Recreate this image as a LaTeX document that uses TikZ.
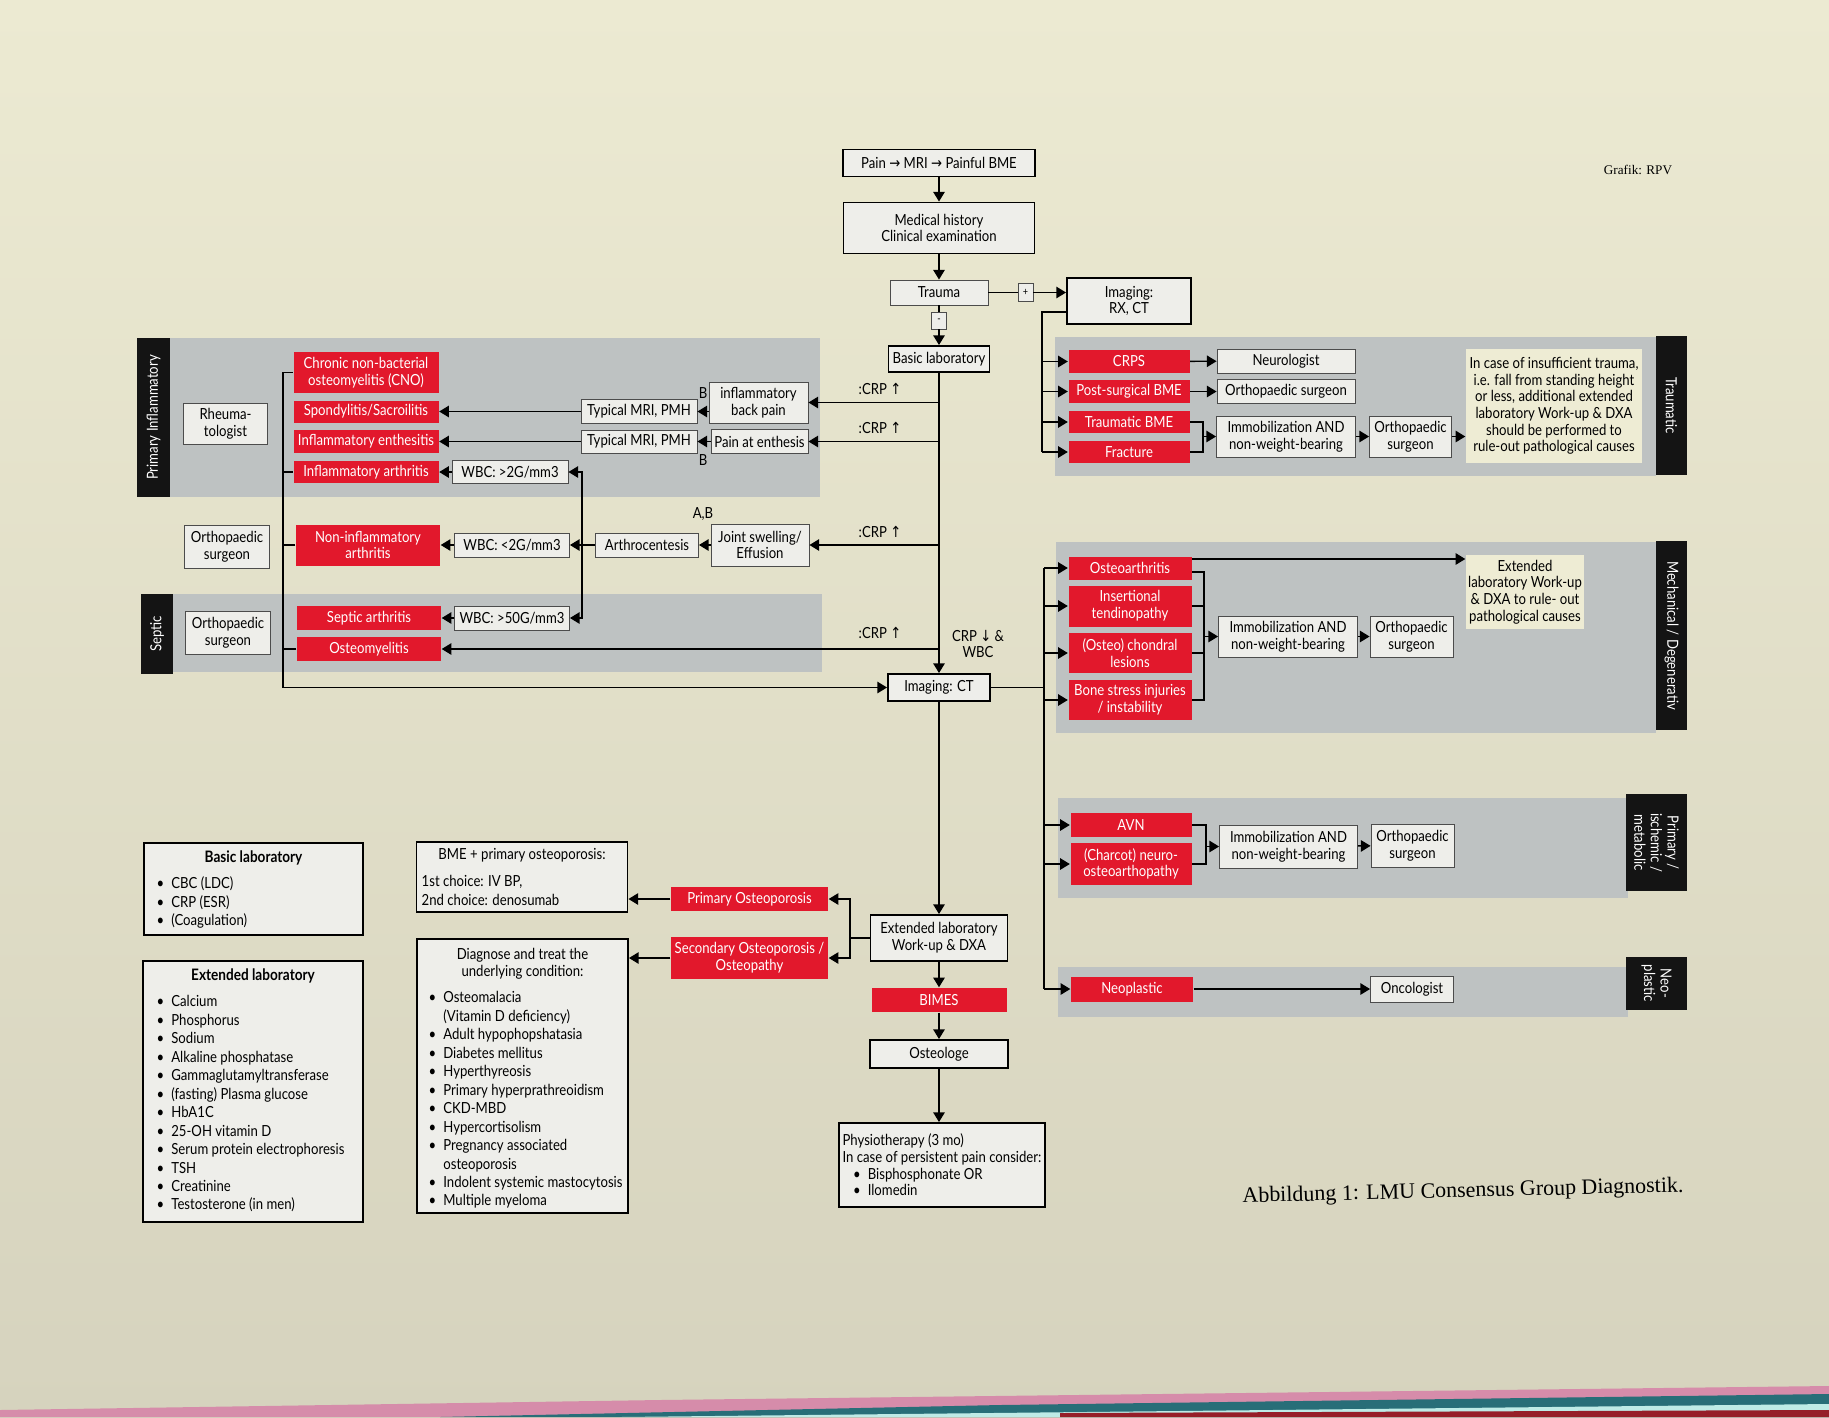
\documentclass[tikz,border=0pt]{standalone}
\usepackage{fontspec}
\setmainfont{Lato}[FakeStretch=0.86]
\newfontfamily\symfont{DejaVu Sans}[FakeStretch=0.86]
\newfontfamily\capfont{Liberation Serif}
\usetikzlibrary{positioning,arrows.meta}
\definecolor{diagred}{RGB}{226,24,44}
\definecolor{panelgray}{RGB}{190,194,194}
\definecolor{boxgray}{RGB}{238,238,234}
\definecolor{notebeige}{RGB}{238,236,212}
\definecolor{pagetop}{RGB}{236,234,210}
\definecolor{pagebottom}{RGB}{214,211,190}
\definecolor{stripepink}{RGB}{214,140,170}
\definecolor{stripeteal}{RGB}{40,110,120}
\definecolor{stripecyan}{RGB}{190,235,230}
\definecolor{stripered}{RGB}{150,30,40}
\newcommand*\up{{\symfont ↑}}
\newcommand*\down{{\symfont ↓}}
\newcommand*\rarr{{\symfont →}}
\newcommand*\itm[1]{\textbullet\hspace{4pt}#1}
\newcommand*\itmcont[1]{\hphantom{\textbullet\hspace{4pt}}#1}

\begin{document}
\begin{tikzpicture}[
        x=0.02cm, y=-0.02cm,
        >={Triangle[length=5.5pt,width=6.5pt]},
        line width=0.8pt,
        font=\fontsize{8.7}{9.5}\selectfont,
        wh/.style 2 args={minimum width=#1*0.02cm, minimum height=#2*0.02cm},
        box/.style={draw=black!70, line width=0.5pt, fill=boxgray, inner sep=1pt, align=center},
        mainbox/.style={box, draw=black, line width=1.1pt},
        diag/.style={fill=diagred, text=white, inner sep=1pt, align=center},
        note/.style={fill=notebeige, inner sep=1pt, align=center},
        bar/.style={fill=black!92, text=white, inner sep=0pt, align=center},
        lbl/.style={inner sep=0pt},
        list/.style={lbl, anchor=north west, align=left, font=\fontsize{8.7}{10.5}\selectfont},
    ]
    % page
    \shade[top color=pagetop, bottom color=pagebottom] (0,0) rectangle (1829,1417);
    \useasboundingbox (0,0) rectangle (1829,1417);
    \fill[stripepink] (0,1410) -- (660,1400) -- (1829,1386) -- (1829,1417) -- (0,1417) -- cycle;
    \fill[stripeteal] (440,1417) -- (1000,1405) -- (1829,1394) -- (1829,1417) -- cycle;
    \fill[stripecyan] (620,1417) -- (1829,1404) -- (1829,1417) -- cycle;
    \fill[stripered] (1060,1413) -- (1829,1410) -- (1829,1417) -- (1060,1417) -- cycle;

    % panels
    \fill[panelgray] (170,338) rectangle (820,497);
    \fill[panelgray] (173,594) rectangle (822,672);
    \fill[panelgray] (1055,337) rectangle (1656,476);
    \fill[panelgray] (1056,542) rectangle (1656,733);
    \fill[panelgray] (1058,798) rectangle (1628,898);
    \fill[panelgray] (1058,967) rectangle (1628,1017);

    \node[bar, rotate=90, wh={159}{33}] (barinfl) at (153.5,417.5) {Primary Inflammatory};
    \node[bar, rotate=90, wh={80}{32}] (barsept) at (157,634) {Septic};
    \node[bar, rotate=-90, wh={139}{31}] (bartraum) at (1671.5,405.5) {Traumatic};
    \node[bar, rotate=-90, wh={189}{31}] (barmech) at (1671.5,635.5) {Mechanical / Degenerativ};
    \node[bar, rotate=-90, wh={97}{61}] (barisch) at (1656.5,842.5) {Primary /\\ischemic /\\metabolic};
    \node[bar, rotate=-90, wh={53}{61}] (barneo) at (1656.5,983.5) {Neo-\\plastic};

    % main column
    \node[mainbox, wh={192}{27}] (pain) at (939,163) {Pain \rarr\ MRI \rarr\ Painful BME};
    \node[mainbox, wh={191}{51}] (medhist) at (939,228) {Medical history\\Clinical examination};
    \node[box, wh={98}{25}] (trauma) at (939,292.5) {Trauma};
    \node[box, wh={15}{18}, font=\fontsize{6}{6}\selectfont] (plus) at (1025.5,292.5) {+};
    \node[mainbox, wh={124}{46}] (imgrx) at (1129,301) {Imaging:\\RX, CT};
    \node[box, wh={15}{17}, font=\fontsize{6}{6}\selectfont] (minus) at (939,320.5) {-};
    \node[mainbox, wh={101}{26}] (basiclab) at (939,359) {Basic laboratory};
    \node[mainbox, wh={102}{27}] (imgct) at (939,687.5) {Imaging: CT};

    % inflammatory / septic side
    \node[box, wh={99}{41}] (backpain) at (758.5,402.5) {inflammatory\\back pain};
    \node[box, wh={97}{24}] (enthpain) at (759.5,441.5) {Pain at enthesis};
    \node[box, wh={98}{42}] (joint) at (760,545) {Joint swelling/\\Effusion};
    \node[box, wh={116}{24}] (mri1) at (639,411.5) {Typical MRI, PMH};
    \node[box, wh={116}{23}] (mri2) at (639,441.5) {Typical MRI, PMH};
    \node[box, wh={103}{24}] (arthro) at (647,545) {Arthrocentesis};
    \node[box, wh={116}{23}] (wbchigh) at (510,472) {WBC: >2G/mm3};
    \node[box, wh={115}{24}] (wbclow) at (512,545) {WBC: <2G/mm3};
    \node[box, wh={115}{24}] (wbcsep) at (512,618) {WBC: >50G/mm3};
    \node[diag, wh={145}{41}] (cno) at (366,372.5) {Chronic non-bacterial\\osteomyelitis (CNO)};
    \node[diag, wh={145}{22}] (spondy) at (366,411.5) {Spondylitis/Sacroilitis};
    \node[diag, wh={145}{23}] (enthes) at (366,441.5) {Inflammatory enthesitis};
    \node[diag, wh={145}{22}] (inflarth) at (366,472) {Inflammatory arthritis};
    \node[diag, wh={144}{41}] (noninfl) at (368,545) {Non-inflammatory\\arthritis};
    \node[diag, wh={144}{24}] (septarth) at (369,618) {Septic arthritis};
    \node[diag, wh={144}{24}] (osteomy) at (369,649) {Osteomyelitis};
    \node[box, wh={84}{41}] (rheuma) at (225.5,423.5) {Rheuma-\\tologist};
    \node[box, wh={85}{43}] (orthoinfl) at (227,547) {Orthopaedic\\surgeon};
    \node[box, wh={85}{43}] (orthosept) at (228,633) {Orthopaedic\\surgeon};

    \node[lbl] (bup) at (703,393) {B};
    \node[lbl] (bdown) at (703,460) {B};
    \node[lbl] (ab) at (703,514) {A,B};
    \node[lbl] (crpa) at (880,389) {:CRP \up};
    \node[lbl] (crpb) at (880,428) {:CRP \up};
    \node[lbl] (crpc) at (880,532) {:CRP \up};
    \node[lbl] (crpd) at (880,633) {:CRP \up};
    \node[lbl, align=center] (crpwbc) at (978,644) {CRP \down\ \&\\WBC};

    % traumatic
    \node[diag, wh={121}{23}] (crps) at (1129,361.5) {CRPS};
    \node[diag, wh={121}{23}] (postsurg) at (1129,391.5) {Post-surgical BME};
    \node[diag, wh={121}{22}] (traumbme) at (1129,422) {Traumatic BME};
    \node[diag, wh={121}{22}] (fracture) at (1129,452) {Fracture};
    \node[box, wh={138}{24}] (neuro) at (1286,361) {Neurologist};
    \node[box, wh={138}{24}] (orthotr) at (1286,391.5) {Orthopaedic surgeon};
    \node[box, wh={139}{41}] (immobtr) at (1286,436.5) {Immobilization AND\\non-weight-bearing};
    \node[box, wh={82}{41}] (orthotr2) at (1410.5,436.5) {Orthopaedic\\surgeon};
    \node[note, wh={176}{114}] (notetr) at (1554,406) {In case of insufficient trauma,\\i.e. fall from standing height\\or less, additional extended\\laboratory Work-up \& DXA\\should be performed to\\rule-out pathological causes};

    % mechanical
    \node[diag, wh={123}{23}] (oa) at (1130,568) {Osteoarthritis};
    \node[diag, wh={123}{41}] (insert) at (1130,606) {Insertional\\tendinopathy};
    \node[diag, wh={123}{40}] (chondral) at (1130,653) {(Osteo) chondral\\lesions};
    \node[diag, wh={123}{40}] (bonestress) at (1130,700) {Bone stress injuries\\/ instability};
    \node[box, wh={139}{41}] (immobmech) at (1288,636.5) {Immobilization AND\\non-weight-bearing};
    \node[box, wh={83}{41}] (orthomech) at (1411.5,636.5) {Orthopaedic\\surgeon};
    \node[note, wh={118}{74}] (notemech) at (1525,592) {Extended\\laboratory Work-up\\\& DXA to rule- out\\pathological causes};

    % ischemic / neoplastic
    \node[diag, wh={121}{24}] (avn) at (1131,825) {AVN};
    \node[diag, wh={121}{42}] (charcot) at (1131,864) {(Charcot) neuro-\\osteoarthopathy};
    \node[box, wh={138}{43}] (immobisch) at (1288.5,846.5) {Immobilization AND\\non-weight-bearing};
    \node[box, wh={83}{43}] (orthoisch) at (1412.5,845.5) {Orthopaedic\\surgeon};
    \node[diag, wh={122}{25}] (neo) at (1132,989) {Neoplastic};
    \node[box, wh={83}{26}] (onco) at (1412,989) {Oncologist};

    % osteology
    \node[mainbox, wh={137}{46}] (extlab) at (939,938) {Extended laboratory\\Work-up \& DXA};
    \node[diag, wh={135}{24}] (bimes) at (939,1000) {BIMES};
    \node[mainbox, wh={138}{28}] (osteologe) at (939,1054) {Osteologe};
    \node[mainbox, wh={206}{84}, align=left] (physio) at (942,1165) {Physiotherapy (3 mo)\\In case of persistent pain consider:\\\hspace*{6pt}\itm{Bisphosphonate OR}\\\hspace*{6pt}\itm{Ilomedin}};
    \node[diag, wh={157}{24}] (primost) at (749.5,899) {Primary Osteoporosis};
    \node[diag, wh={157}{42}] (secost) at (749.5,958) {Secondary Osteoporosis /\\Osteopathy};

    % boxes at the bottom left
    \node[mainbox, wh={211}{70}] (bmebox) at (522,877) {};
    \node[lbl] (bmetitle) at (522,855) {BME + primary osteoporosis:};
    \node[list] (bmelist) at (421,875) {1st choice: IV BP,\\2nd choice: denosumab};
    \node[mainbox, wh={211}{274}] (diagbox) at (522.5,1076) {};
    \node[lbl, align=center] (diagtitle) at (522.5,964) {Diagnose and treat the\\underlying condition:};
    \node[list] (diaglist) at (428,991) {\itm{Osteomalacia}\\\itmcont{(Vitamin D deficiency)}\\\itm{Adult hypophopshatasia}\\\itm{Diabetes mellitus}\\\itm{Hyperthyreosis}\\\itm{Primary hyperprathreoidism}\\\itm{CKD-MBD}\\\itm{Hypercortisolism}\\\itm{Pregnancy associated}\\\itmcont{osteoporosis}\\\itm{Indolent systemic mastocytosis}\\\itm{Multiple myeloma}};
    \node[mainbox, wh={219}{92}] (basicbox) at (253.5,889) {};
    \node[lbl, font=\fontsize{9}{10}\selectfont\bfseries] (basictitle) at (253.5,858) {Basic laboratory};
    \node[list] (basiclist) at (156,876) {\itm{CBC (LDC)}\\\itm{CRP (ESR)}\\\itm{(Coagulation)}};
    \node[mainbox, wh={220}{261}] (extbox) at (253,1091.5) {};
    \node[lbl, font=\fontsize{9}{10}\selectfont\bfseries] (exttitle) at (253,976) {Extended laboratory};
    \node[list] (extlist) at (156,995) {\itm{Calcium}\\\itm{Phosphorus}\\\itm{Sodium}\\\itm{Alkaline phosphatase}\\\itm{Gammaglutamyltransferase}\\\itm{(fasting) Plasma glucose}\\\itm{HbA1C}\\\itm{25-OH vitamin D}\\\itm{Serum protein electrophoresis}\\\itm{TSH}\\\itm{Creatinine}\\\itm{Testosterone (in men)}};

    \node[lbl, font=\capfont\fontsize{7.5}{9}\selectfont] (grafik) at (1638,170) {Grafik: RPV};
    \node[lbl, font=\capfont\fontsize{12.5}{14}\selectfont, rotate=1.4] (caption) at (1463,1192) {Abbildung 1: LMU Consensus Group Diagnostik.};

    % spine points
    \coordinate (fork) at (582,545);
    \coordinate (lspine) at (283,372.5);
    \coordinate (rspine) at (1044,687.5);
    \coordinate (tspine) at (1042,312);
    \coordinate (trbr) at (1203,436.5);
    \coordinate (mechbr) at (1204,636.5);
    \coordinate (ischbr) at (1206,846.5);
    \coordinate (osbr) at (850,938);

    \path[->]
        (pain) edge (medhist)
        (medhist) edge (trauma)
        (minus) edge (basiclab)
        (basiclab) edge (imgct)
        (imgct) edge (extlab)
        (extlab) edge (bimes)
        (bimes) edge (osteologe)
        (backpain -| basiclab) edge (backpain)
        (enthpain -| basiclab) edge (enthpain)
        (joint -| basiclab) edge (joint)
        (osteomy -| basiclab) edge (osteomy)
        (mri1 -| backpain.west) edge (mri1)
        (mri1) edge (spondy)
        (enthpain) edge (mri2)
        (mri2) edge (enthes)
        (joint) edge (arthro)
        (arthro) edge (wbclow)
        (wbclow) edge (noninfl)
        (wbchigh) edge (inflarth)
        (wbcsep) edge (septarth)
        (crps) edge (neuro)
        (postsurg) edge (orthotr)
        (immobtr) edge (orthotr2)
        (orthotr2.east) edge (orthotr2.east -| notetr.west)
        (immobmech) edge (orthomech)
        (immobisch) edge (orthoisch)
        (neo) edge (onco)
        (primost) edge (primost -| bmebox.east)
        (secost) edge (secost -| diagbox.east)
        ;
    \draw (trauma) -- (plus);
    \draw[->] (plus) -- (plus -| imgrx.west);
    \draw (trauma) -- (minus);
    \draw[->] (osteologe.south) -- (osteologe.south |- physio.north);

    % arthrocentesis fork
    \draw[<->] (wbchigh.east) -| (fork) |- (wbcsep.east);

    % left collecting line
    \draw[->] (cno.west) -- (lspine) |- (imgct.west);
    \foreach \n in {inflarth,noninfl,osteomy}
        \draw (\n.west) -- (\n.west -| lspine);

    % traumatic branches
    \draw (tspine -| imgrx.west) -- (tspine) -- (fracture -| tspine);
    \foreach \n in {crps,postsurg,traumbme,fracture}
        \draw[->] (\n -| tspine) -- (\n.west);
    \draw (traumbme.east) -| (trbr) |- (fracture.east);
    \draw[->] (trbr) -- (immobtr.west);

    % right branches
    \draw (imgct.east) -- (rspine);
    \draw (oa -| rspine) -- (neo -| rspine);
    \foreach \n in {oa,insert,chondral,bonestress,avn,charcot,neo}
        \draw[->] (\n -| rspine) -- (\n.west);
    \draw[->] ([yshift=0.18cm]oa.east) -- ([yshift=0.18cm]oa.east -| notemech.west);
    \draw ([yshift=-0.08cm]oa.east) -| (mechbr |- bonestress) -- (bonestress.east);
    \draw (insert.east) -- (insert -| mechbr);
    \draw (chondral.east) -- (chondral -| mechbr);
    \draw[->] (mechbr) -- (immobmech.west);
    \draw (avn.east) -| (ischbr |- charcot) -- (charcot.east);
    \draw[->] (ischbr) -- (immobisch.west);

    % osteoporosis fork
    \draw (extlab.west) -- (osbr);
    \draw[->] (osbr) |- (primost.east);
    \draw[->] (osbr) |- (secost.east);
\end{tikzpicture}
\end{document}
